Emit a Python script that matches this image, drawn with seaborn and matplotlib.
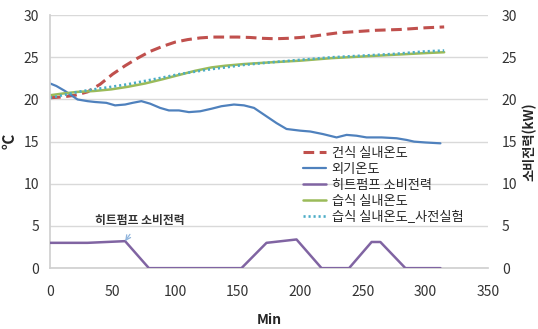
import matplotlib
matplotlib.use("Agg")
import matplotlib.pyplot as plt
import seaborn as sns
import numpy as np
import pandas as pd

# ---- data ----
t_dry = [0, 10, 20, 30, 40, 50, 60, 70, 80, 90, 100, 110, 120, 130, 140, 150, 160, 170,
         180, 190, 200, 210, 220, 230, 240, 250, 260, 270, 280, 290, 300, 315]
dry_indoor = [20.2, 20.3, 20.5, 20.9, 21.8, 23.0, 24.0, 24.9, 25.7, 26.3, 26.8, 27.1, 27.3,
              27.4, 27.4, 27.4, 27.35, 27.25, 27.2, 27.25, 27.35, 27.5, 27.7, 27.9, 28.0,
              28.1, 28.2, 28.25, 28.3, 28.4, 28.5, 28.6]

t_out = [0, 5, 12, 22, 30, 36, 45, 52, 60, 66, 73, 80, 88, 95, 103, 111, 120, 129, 137,
         147, 155, 163, 170, 176, 181, 189, 200, 208, 218, 229, 237, 245, 253, 265, 277,
         285, 291, 300, 312]
outdoor = [21.9, 21.6, 21.0, 20.0, 19.8, 19.7, 19.6, 19.3, 19.4, 19.6, 19.8, 19.5, 19.0,
           18.7, 18.7, 18.5, 18.6, 18.9, 19.2, 19.4, 19.3, 19.0, 18.3, 17.7, 17.2, 16.5,
           16.3, 16.2, 15.9, 15.5, 15.8, 15.7, 15.5, 15.5, 15.4, 15.2, 15.0, 14.9, 14.8]

t_hp = [0, 30, 60, 79, 153, 173, 197, 217, 239, 257, 264, 284, 312]
heatpump_kw = [3.0, 3.0, 3.2, 0.0, 0.0, 3.0, 3.4, 0.0, 0.0, 3.1, 3.1, 0.0, 0.0]

t_wet = [0, 10, 22, 35, 49, 62, 76, 90, 103, 116, 129, 140, 155, 176, 200, 225, 250,
         275, 300, 315]
wet_indoor = [20.5, 20.7, 20.9, 21.0, 21.2, 21.5, 21.9, 22.4, 22.9, 23.4, 23.8, 24.0,
              24.2, 24.4, 24.6, 24.9, 25.1, 25.3, 25.5, 25.6]
wet_pre = [20.2, 20.5, 20.9, 21.2, 21.5, 21.8, 22.2, 22.6, 23.0, 23.3, 23.6, 23.8,
           24.1, 24.4, 24.7, 25.0, 25.2, 25.4, 25.7, 25.8]

labels = ["건식 실내온도", "외기온도", "히트펌프 소비전력", "습식 실내온도", "습식 실내온도_사전실험"]
x_ticks = [0, 50, 100, 150, 200, 250, 300, 350]
y_ticks = [0, 5, 10, 15, 20, 25, 30]

# ---- style ----
sns.set_theme(style="white")
plt.rcParams["font.family"] = ["Noto Sans CJK KR", "DejaVu Sans"]

fig = plt.figure(figsize=(5.38, 3.29), dpi=100)
ax = fig.add_axes([0.093, 0.185, 0.814, 0.769])
ax2 = ax.twinx()

red, blue, purple, green, teal = "#C0504D", "#4F81BD", "#8064A2", "#9BBB59", "#4BACC6"

sns.lineplot(x=t_dry, y=dry_indoor, ax=ax, color=red, lw=2.2, label=labels[0],
             linestyle=(0, (3.5, 1.8)))
sns.lineplot(x=t_out, y=outdoor, ax=ax, color=blue, lw=1.6, label=labels[1])
sns.lineplot(x=t_hp, y=heatpump_kw, ax=ax2, color=purple, lw=1.8, label=labels[2])
sns.lineplot(x=t_wet, y=wet_indoor, ax=ax, color=green, lw=1.8, label=labels[3])
sns.lineplot(x=t_wet, y=wet_pre, ax=ax, color=teal, lw=1.9, label=labels[4],
             linestyle=(0, (0.8, 1.1)))

for a in (ax, ax2):
    a.set_xlim(0, 350)
    a.set_ylim(0, 30)
    a.set_yticks(y_ticks)
    for s in a.spines.values():
        s.set_visible(False)
    a.tick_params(length=0, labelsize=10, colors="#333333")
ax.set_xticks(x_ticks)
ax.yaxis.grid(True, color="#d9d9d9", lw=1)
ax.xaxis.grid(False)
ax.spines["left"].set_visible(True)
ax.spines["left"].set_color("#d0d0d0")
ax.spines["bottom"].set_visible(True)
ax.spines["bottom"].set_color("#d0d0d0")
ax.tick_params(axis="x", pad=12)
ax.tick_params(axis="y", pad=8)
ax2.tick_params(axis="y", pad=10)

ax.set_xlabel("Min", fontsize=10, fontweight="bold", labelpad=10)
ax.set_ylabel("℃", fontsize=11, fontweight="bold", labelpad=4)
ax2.set_ylabel("소비전력(kW)", fontsize=9.5, fontweight="bold", rotation=90)
ax2.yaxis.set_label_coords(1.078, 0.5)
ax2.yaxis.label.set_verticalalignment("top")

h1, l1 = ax.get_legend_handles_labels()
h2, l2 = ax2.get_legend_handles_labels()
if ax.get_legend():
    ax.get_legend().remove()
if ax2.get_legend():
    ax2.get_legend().remove()
hmap = dict(zip(l1 + l2, h1 + h2))
ax2.legend([hmap[l] for l in labels], labels, loc="upper left",
           bbox_to_anchor=(0.565, 0.50), frameon=False, fontsize=9.5,
           handlelength=1.8, handletextpad=0.4, labelspacing=0.22, borderaxespad=0)

ax2.annotate("히트펌프 소비전력", xy=(t_hp[2], heatpump_kw[2]), xytext=(72, 5.7),
             ha="center", va="center", fontsize=8.5, fontweight="bold", color="#333333",
             arrowprops=dict(arrowstyle="->", color="#8fb4dc", lw=0.9,
                             shrinkA=4, shrinkB=0))

fig.savefig("out.png", dpi=100)
